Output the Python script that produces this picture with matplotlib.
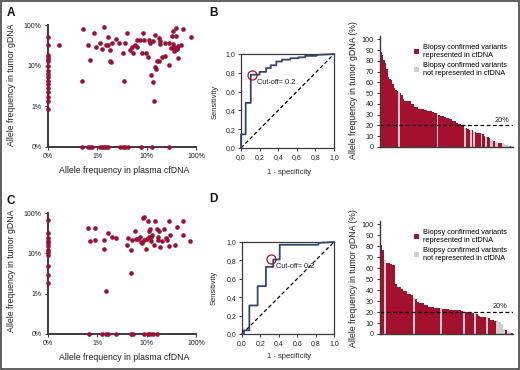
import numpy as np
import matplotlib
matplotlib.use('Agg')
import matplotlib.pyplot as plt
from matplotlib.patches import Patch, Rectangle
from matplotlib.ticker import NullLocator

plt.rcParams['font.family'] = ['Liberation Sans', 'DejaVu Sans']

RED = '#a3112f'
DOT = '#9c1034'
GRAY = '#cfcfcf'
NAVY = '#34466f'
AXC = '#3a3a3a'

# ---------------- Panel A data (allele frequencies, %) ----------------
# variants found in tumor only (cfDNA = 0%)
a_tumor_only = [51, 31.6, 18, 16, 14.3, 12.8, 9.7, 7.5, 6.25, 5.2, 4.3, 3.5,
                2.8, 2.26, 1.67, 1.38, 0.88]
# variants found in cfDNA only (tumor = 0%)
a_cfdna_only = [0.48, 0.64, 0.70, 0.79, 1.15, 1.26, 1.38, 1.52, 1.67, 2.9,
                3.3, 3.7, 4.2, 7.6, 12.9, 28]
# variants found in both
a_cfdna = [0.17, 0.51, 0.48, 0.64, 0.72, 0.87, 0.95, 1.15, 1.26, 1.34, 1.47,
           1.67, 1.67, 1.77, 1.77, 1.89, 2.0, 2.35, 2.74, 3.3, 3.4, 3.7, 3.98,
           4.5, 5.1, 5.4, 5.9, 6.3, 6.5, 7.4, 8.1, 8.6, 8.9, 9.8, 10.4, 11,
           11.8, 12.1, 13.3, 13.7, 14.2, 14.6, 15, 15.5, 16, 17.6, 18.2, 18.7,
           18.7, 20.6, 23.3, 24, 28, 28.9, 31.7, 32.7, 33.8, 34.8, 36, 36.6,
           38, 39.4, 39.4, 40.6, 41.9, 43, 44, 49, 53.8, 80]
a_tumor = [32.9, 81, 4.1, 33, 13.8, 63, 29, 35.5, 26, 88, 31.6,
           50, 33, 24, 12.8, 12.3, 35.5, 44.5, 36.8, 20, 4.1, 35.5, 62,
           24, 28, 20, 33, 29, 42.8, 42.8, 20.9, 65, 42.8, 21, 16.7, 42.8,
           36.8, 5.8, 40, 4, 1.33, 9.1, 58, 8.1, 12.8, 13.3, 48, 40,
           34, 16, 36.8, 17.3, 10.2, 35.5, 27.2, 53, 72, 34, 22.5, 29,
           24, 55, 85, 27.2, 26, 15.5, 30, 31.6, 78, 52]

# ---------------- Panel C data ----------------
c_tumor_only = [67, 32.7, 24, 20.7, 18.5, 15.3, 12.2, 10.8, 9.3, 4.9, 2.9, 1.8]
c_cfdna_only = [0.68, 1.26, 1.47, 1.67, 2.42, 4.8, 5.4, 8.9, 10.4, 11.8, 13.7, 16]
c_cfdna = [0.64, 0.72, 0.9, 0.9, 1.34, 1.34, 1.52, 1.67, 1.95, 2.35, 4.0, 4.2,
           4.8, 4.8, 5.1, 5.8, 6.1, 6.7, 7.4, 7.6, 8.1, 8.4, 8.9, 8.9, 9.8, 10,
           10.4, 11, 11.4, 11.8, 12.1, 12.5, 12.9, 14.6, 16, 16.6, 16.8, 18.2,
           18.7, 20.6, 22.6, 24.8, 25.5, 28, 28.9, 29.8, 38, 40.6, 55.6, 55.6,
           75.7, 14]
c_tumor = [42.6, 20.7, 42.6, 21.5, 21.5, 13.1, 1.15, 31.5, 26, 24, 15.9, 24,
           3.3, 12.2, 21.5, 36.6, 23.2, 22.4, 25, 19.2, 17.9, 77, 81, 21.5, 12.6,
           22.4, 64.7, 25, 36.6, 39.5, 26, 20, 28, 64.7, 41, 25, 21.5, 35.2,
           14.2, 20, 39.5, 24, 21.5, 63, 15.3, 28, 16.5, 46, 64, 29,
           20, 15.9]

# ---------------- ROC curves ----------------
b_fpr = [0, 0, 0.05, 0.05, 0.105, 0.105, 0.20, 0.20, 0.27, 0.27, 0.32, 0.32,
         0.38, 0.38, 0.44, 0.44, 0.53, 0.53, 0.62, 0.62, 0.69, 0.69, 0.81, 0.81, 1.0]
b_tpr = [0, 0.145, 0.145, 0.48, 0.48, 0.78, 0.78, 0.81, 0.81, 0.85, 0.85, 0.88,
         0.88, 0.92, 0.92, 0.94, 0.94, 0.955, 0.955, 0.965, 0.965, 0.98, 0.98, 0.99, 1.0]
b_cut = (0.12, 0.78)

d_fpr = [0, 0.02, 0.02, 0.08, 0.08, 0.17, 0.17, 0.26, 0.26, 0.34, 0.34, 0.41,
         0.41, 0.83, 0.83, 1.0]
d_tpr = [0, 0, 0.04, 0.04, 0.31, 0.31, 0.52, 0.52, 0.73, 0.73, 0.81, 0.81,
         0.97, 0.97, 0.99, 1.0]
d_cut = (0.32, 0.81)

legend_labels = ['Biopsy confirmed variants\nrepresented in cfDNA',
                 'Biopsy confirmed variants\nnot represented in cfDNA']

W, H = 520, 370
fig = plt.figure(figsize=(W / 100, H / 100), dpi=100)


def box(l, t, r, b):
    return [l / W, 1 - b / H, (r - l) / W, (b - t) / H]


def ftext(x, y, s, **kw):
    fig.text(x / W, 1 - y / H, s, **kw)


def scatter_panel(rect, tumor_only, cfdna_only, cf, tu):
    ax = fig.add_axes(box(*rect))
    xs = np.r_[np.zeros(len(tumor_only)), np.array(cfdna_only), np.array(cf)]
    ys = np.r_[np.array(tumor_only), np.zeros(len(cfdna_only)), np.array(tu)]
    xp = np.where(xs <= 0, 0.1, xs)
    yp = np.where(ys <= 0, 0.1, ys)
    ax.set_xscale('log')
    ax.set_yscale('log')
    ax.scatter(xp, yp, s=11, color=DOT, linewidths=0, clip_on=False, zorder=3)
    ax.set_xlim(0.1, 100)
    ax.set_ylim(0.1, 100)
    ticks = [0.1, 1, 10, 100]
    labels = ['0%', '1%', '10%', '100%']
    ax.set_xticks(ticks, labels)
    ax.set_yticks(ticks, labels)
    ax.xaxis.set_minor_locator(NullLocator())
    ax.yaxis.set_minor_locator(NullLocator())
    for s in ['top', 'right']:
        ax.spines[s].set_visible(False)
    for s in ['left', 'bottom']:
        ax.spines[s].set_color(AXC)
        ax.spines[s].set_linewidth(1.4)
    ax.tick_params(labelsize=5, length=2.5, width=0.8, color=AXC, pad=2,
                   labelcolor='#222222')
    return ax


def roc_panel(rect, fpr, tpr, cut, txt_xy):
    ax = fig.add_axes(box(*rect))
    ax.plot([0, 1], [0, 1], color='k', ls=(0, (3, 2)), lw=0.9)
    ax.plot(fpr, tpr, color=NAVY, lw=1.3, clip_on=False, zorder=3)
    ax.plot([cut[0]], [cut[1]], marker='o', ms=6.5, mfc='none', mec=RED,
            mew=0.9, zorder=4)
    ax.text(txt_xy[0], txt_xy[1], 'Cut-off= 0.2', fontsize=5.3, va='center',
            ha='left', color='#222222')
    ax.set_xlim(0, 1)
    ax.set_ylim(0, 1)
    t = [0, 0.2, 0.4, 0.6, 0.8, 1.0]
    lab = [f'{v:.1f}'.replace('.', ',') for v in t]
    ax.set_xticks(t, lab)
    ax.set_yticks(t, lab)
    for s in ax.spines.values():
        s.set_color(AXC)
        s.set_linewidth(0.9)
    ax.tick_params(labelsize=5, length=2, width=0.7, color=AXC, pad=2,
                   labelcolor='#222222')
    return ax


def bar_panel(rect, tumor_only, tu):
    ax = fig.add_axes(box(*rect))
    vals = np.r_[np.array(tu), np.array(tumor_only)]
    rep = np.r_[np.ones(len(tu), bool), np.zeros(len(tumor_only), bool)]
    order = np.argsort(-vals, kind='stable')
    vals = vals[order]
    rep = rep[order]
    n = len(vals)
    cols = [RED if r else GRAY for r in rep]
    ax.bar(np.arange(n), vals, width=1.0, color=cols, linewidth=0,
           antialiased=False)
    ax.set_xlim(-0.5, n - 0.5)
    ax.set_ylim(0, 103)
    ax.axhline(20, color='k', ls=(0, (3, 2)), lw=0.9, xmax=1.0)
    ax.text(n - 3, 21.5, '20%', fontsize=5.3, ha='right', va='bottom',
            color='#222222')
    ax.set_yticks(range(0, 101, 10))
    ax.set_xticks([])
    for s in ['top', 'right']:
        ax.spines[s].set_visible(False)
    ax.spines['left'].set_color(AXC)
    ax.spines['left'].set_linewidth(1.0)
    ax.spines['bottom'].set_color(AXC)
    ax.spines['bottom'].set_linewidth(1.0)
    ax.tick_params(labelsize=5.2, length=2.5, width=0.8, color=AXC, pad=2,
                   labelcolor='#222222')
    handles = [Patch(facecolor=RED), Patch(facecolor=GRAY)]
    ax.legend(handles, legend_labels, loc='upper left',
              bbox_to_anchor=(0.22, 0.965), frameon=False, fontsize=5.3,
              handlelength=0.7, handleheight=0.7, handletextpad=0.5,
              labelspacing=0.35, borderaxespad=0.2)
    return ax


# ---- layout (pixel boxes: left, top, right, bottom) ----
scatter_panel((48, 25, 196, 147), a_tumor_only, a_cfdna_only, a_cfdna, a_tumor)
scatter_panel((48, 213, 196, 334), c_tumor_only, c_cfdna_only, c_cfdna, c_tumor)
roc_panel((241, 54, 334, 148), b_fpr, b_tpr, b_cut, (0.17, 0.70))
roc_panel((242, 242, 334, 334), d_fpr, d_tpr, d_cut, (0.37, 0.73))
bar_panel((380, 36, 513, 147), a_tumor_only, a_tumor)
bar_panel((380, 221, 513, 334), c_tumor_only, c_tumor)

# axis labels
lab_kw = dict(fontsize=6.3, color='#222222', ha='center', va='center')
ftext(12, 85, 'Allele frequency in tumor gDNA', rotation=90, **lab_kw)
ftext(124, 171, 'Allele frequency in plasma cfDNA', **lab_kw)
ftext(12, 271, 'Allele frequency in tumor gDNA', rotation=90, **lab_kw)
ftext(124, 357, 'Allele frequency in plasma cfDNA', **lab_kw)
roc_kw = dict(fontsize=5.4, color='#222222', ha='center', va='center')
ftext(215, 102, 'Sensitivity', rotation=90, **roc_kw)
ftext(289, 172, '1 - specificity', **roc_kw)
ftext(214, 288, 'Sensitivity', rotation=90, **roc_kw)
ftext(289, 357, '1 - specificity', **roc_kw)
ftext(353, 90, 'Allele frequency in tumor gDNA (%)', rotation=90, **lab_kw)
ftext(353, 278, 'Allele frequency in tumor gDNA (%)', rotation=90, **lab_kw)

# panel letters
pl_kw = dict(fontsize=8.5, fontweight='bold', color='#111111', ha='center',
             va='center')
ftext(11, 13, 'A', **pl_kw)
ftext(213, 13, 'B', **pl_kw)
ftext(11, 201, 'C', **pl_kw)
ftext(213, 199, 'D', **pl_kw)

fig.patches.append(Rectangle((0.001, 0.002), 0.997, 0.995, transform=fig.transFigure,
                             fill=False, edgecolor='#444444', lw=1.2))

fig.savefig('out.png', dpi=100)
